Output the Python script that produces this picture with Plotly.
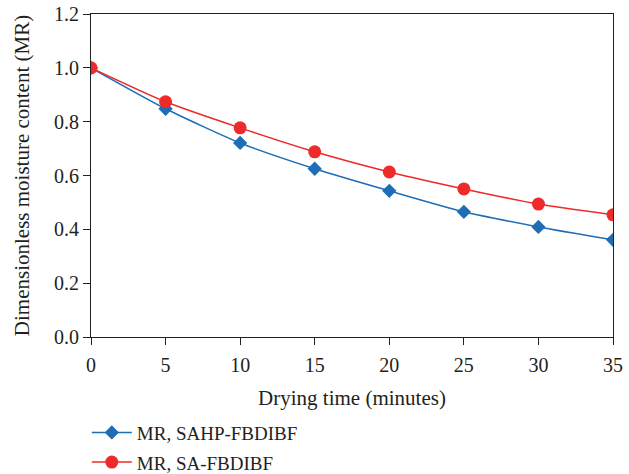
import plotly.graph_objects as go

time_min = [0, 5, 10, 15, 20, 25, 30, 35]
mr_sahp = [1.0, 0.848, 0.721, 0.625, 0.543, 0.465, 0.409, 0.361]
mr_sa = [1.0, 0.874, 0.777, 0.688, 0.613, 0.550, 0.494, 0.454]
x_ticks = [0, 5, 10, 15, 20, 25, 30, 35]
y_ticks = [0.0, 0.2, 0.4, 0.6, 0.8, 1.0, 1.2]

font_family = "Liberation Serif"
text_color = "#231f20"

fig = go.Figure()
fig.add_trace(go.Scatter(
    x=time_min, y=mr_sahp, mode="lines+markers", name="MR, SAHP-FBDIBF",
    line=dict(color="#1f6db5", width=1.5, shape="spline", smoothing=0.6),
    marker=dict(symbol="diamond", size=11, color="#1f6db5"),
    legendgroup="a",
))
fig.add_trace(go.Scatter(
    x=time_min, y=mr_sa, mode="lines+markers", name="MR, SA-FBDIBF",
    line=dict(color="#ee2a2a", width=1.5, shape="spline", smoothing=0.6),
    marker=dict(symbol="circle", size=13, color="#ee2a2a"),
    legendgroup="b",
))

fig.update_layout(
    width=629, height=474,
    margin=dict(l=91, r=16, t=14, b=137, autoexpand=False),
    paper_bgcolor="white", plot_bgcolor="white",
    font=dict(family=font_family, size=19, color=text_color),
    showlegend=True,
    legend=dict(
        x=-0.008, xanchor="left",
        y=-0.237, yanchor="top",
        font=dict(family=font_family, size=19, color=text_color),
        traceorder="grouped", tracegroupgap=2,
        itemwidth=40,
        bgcolor="rgba(0,0,0,0)",
    ),
)
fig.update_xaxes(
    range=[0, 35], tickvals=x_ticks, ticktext=[str(v) for v in x_ticks],
    showgrid=False, zeroline=False,
    showline=True, linecolor=text_color, linewidth=1.2, mirror=True,
    ticks="outside", ticklen=7, tickcolor=text_color, ticklabelstandoff=3,
    title=dict(text="Drying time (minutes)", font=dict(size=21), standoff=15),
    tickfont=dict(size=20),
)
fig.update_yaxes(
    range=[0, 1.2], tickvals=y_ticks, ticktext=[f"{v:.1f}" for v in y_ticks],
    showgrid=False, zeroline=False,
    showline=True, linecolor=text_color, linewidth=1.2, mirror=True,
    ticks="outside", ticklen=7, tickcolor=text_color,
    title=dict(text="Dimensionless moisture content (MR)", font=dict(size=21), standoff=18),
    tickfont=dict(size=20),
)

fig.write_html("out.html")
